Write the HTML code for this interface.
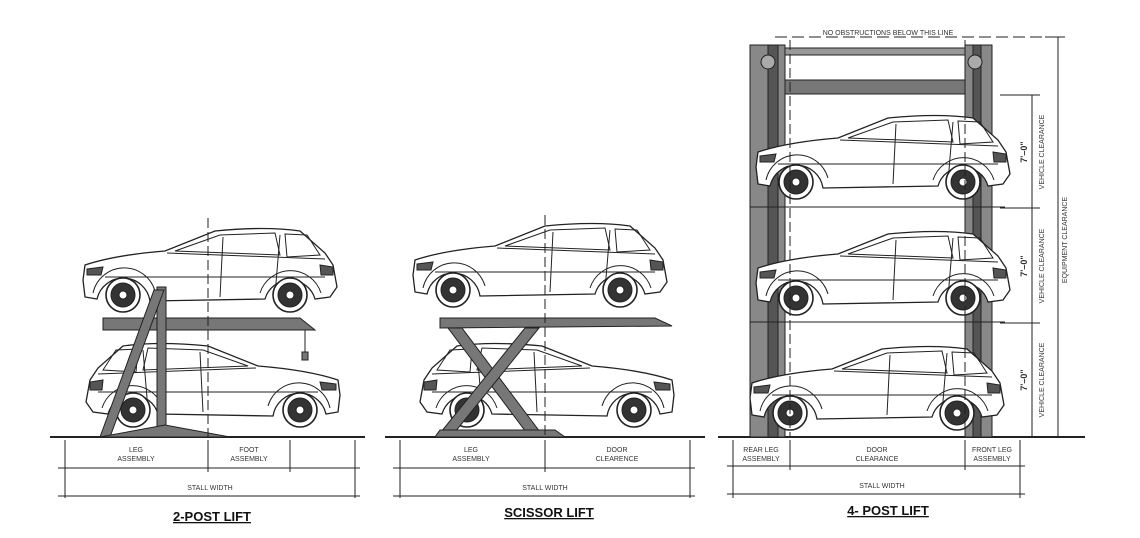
<!DOCTYPE html>
<html><head><meta charset="utf-8"><style>
html,body{margin:0;padding:0;background:#fff;}
svg{display:block;}
text{font-family:"Liberation Sans",sans-serif;fill:#333;}
.s{font-size:7px;}
.t{font-size:13px;font-weight:bold;fill:#111;text-decoration:underline;}
</style></head><body>
<svg width="1140" height="538" viewBox="0 0 1140 538" xmlns="http://www.w3.org/2000/svg">
<defs>
<g id="car" fill="none" stroke="#222" stroke-width="1">
 <path d="M8,55 L10,40 Q40,30 90,26 L140,6 Q190,1 225,6 L250,28 L258,40 L262,62 L255,72 L240,74 A26,26 0 0 0 190,74 L75,76 A27,27 0 0 0 22,74 L10,72 Z" fill="#fff" stroke-width="1.3"/>
 <path d="M100,26 L145,10 L200,8 L205,30 Z M210,9 L232,10 L245,30 L212,32 Z"/>
 <path d="M148,12 L145,72 M205,10 L200,70 M92,28 L250,34 M30,52 L250,52"/>
 <path d="M18,68 A32,32 0 0 1 80,66 M185,68 A32,32 0 0 1 246,68"/>
 <circle cx="48" cy="70" r="17" fill="#fff" stroke-width="1.6"/>
 <circle cx="48" cy="70" r="12" fill="#333"/>
 <circle cx="48" cy="70" r="4" fill="#fff"/>
 <circle cx="215" cy="70" r="17" fill="#fff" stroke-width="1.6"/>
 <circle cx="215" cy="70" r="12" fill="#333"/>
 <circle cx="215" cy="70" r="4" fill="#fff"/>
 <path d="M12,44 L28,42 L26,50 L12,50 Z M245,40 L258,42 L258,50 L246,50 Z" fill="#555"/>
</g>
</defs>
<g stroke="#222" fill="none">
<!-- ground lines -->
<line x1="50" y1="437" x2="365" y2="437" stroke-width="2"/>
<line x1="385" y1="437" x2="705" y2="437" stroke-width="2"/>
<line x1="718" y1="437" x2="1085" y2="437" stroke-width="2"/>
</g>

<!-- 2-post lift -->
<use href="#car" x="75" y="225"/>
<use href="#car" transform="translate(348,340) scale(-1,1)"/>
<g fill="#777" stroke="#222" stroke-width="1">
 <path d="M103,318 L300,318 L315,330 L103,330 Z"/>
 <rect x="157" y="287" width="9" height="150"/>
 <path d="M154,290 L164,290 L110,437 L100,437 Z"/>
 <path d="M100,437 L230,437 L165,425 Z"/>
 <line x1="305" y1="330" x2="305" y2="355" stroke="#222"/>
 <rect x="302" y="352" width="6" height="8"/>
</g>
<line x1="208" y1="218" x2="208" y2="437" stroke="#222" stroke-dasharray="10,4"/>

<!-- scissor lift -->
<use href="#car" x="405" y="220"/>
<use href="#car" transform="translate(682,340) scale(-1,1)"/>
<g fill="#777" stroke="#222" stroke-width="1">
 <path d="M440,318 L655,318 L672,326 L440,328 Z"/>
 <path d="M448,328 L462,328 L540,432 L526,432 Z"/>
 <path d="M525,328 L539,328 L455,432 L441,432 Z"/>
 <path d="M435,437 L565,437 L555,430 L440,430 Z"/>
</g>
<line x1="545" y1="215" x2="545" y2="437" stroke="#222" stroke-dasharray="10,4"/>

<!-- 4-post -->
<g fill="#777" stroke="#222" stroke-width="1">
 <rect x="750" y="45" width="35" height="392" fill="#888"/>
 <rect x="768" y="45" width="10" height="392" fill="#555"/>
 <rect x="965" y="45" width="27" height="392" fill="#888"/>
 <rect x="973" y="45" width="8" height="392" fill="#555"/>
 <rect x="785" y="48" width="180" height="7" fill="#999"/>
 <rect x="785" y="80" width="180" height="14" fill="#777"/>
 <circle cx="768" cy="62" r="7" fill="#aaa"/>
 <circle cx="975" cy="62" r="7" fill="#aaa"/>
</g>
<g stroke="#222" stroke-width="1">
 <line x1="750" y1="207" x2="1005" y2="207"/>
 <line x1="750" y1="322" x2="1005" y2="322"/>
</g>
<use href="#car" x="748" y="112"/>
<use href="#car" x="748" y="228"/>
<use href="#car" x="742" y="343"/>
<g stroke="#222" fill="none" stroke-width="1">
 <line x1="790" y1="40" x2="790" y2="437" stroke-dasharray="10,4"/>
 <line x1="965" y1="40" x2="965" y2="437" stroke-dasharray="10,4"/>
 <line x1="775" y1="37" x2="1045" y2="37" stroke-dasharray="12,5"/>
 <line x1="1058" y1="37" x2="1058" y2="437"/>
 <line x1="1045" y1="37" x2="1065" y2="37"/>
 <line x1="1032" y1="95" x2="1032" y2="437"/>
 <line x1="1000" y1="95" x2="1040" y2="95"/>
 <line x1="1000" y1="208" x2="1040" y2="208"/>
 <line x1="1000" y1="323" x2="1040" y2="323"/>
</g>
<text class="s" x="888" y="35" text-anchor="middle">NO OBSTRUCTIONS BELOW THIS LINE</text>
<g font-size="9" font-weight="bold">
 <text x="0" y="0" transform="translate(1027,152) rotate(-90)" text-anchor="middle" style="font-size:9px;font-weight:bold">7'–0"</text>
 <text x="0" y="0" transform="translate(1027,266) rotate(-90)" text-anchor="middle" style="font-size:9px;font-weight:bold">7'–0"</text>
 <text x="0" y="0" transform="translate(1027,380) rotate(-90)" text-anchor="middle" style="font-size:9px;font-weight:bold">7'–0"</text>
</g>
<text class="s" transform="translate(1044,152) rotate(-90)" text-anchor="middle">VEHICLE CLEARANCE</text>
<text class="s" transform="translate(1044,266) rotate(-90)" text-anchor="middle">VEHICLE CLEARANCE</text>
<text class="s" transform="translate(1044,380) rotate(-90)" text-anchor="middle">VEHICLE CLEARANCE</text>
<text class="s" transform="translate(1067,240) rotate(-90)" text-anchor="middle">EQUIPMENT CLEARANCE</text>

<!-- dimension lines -->
<g stroke="#222" stroke-width="1">
 <line x1="65" y1="440" x2="65" y2="498"/><line x1="208" y1="440" x2="208" y2="472"/>
 <line x1="290" y1="440" x2="290" y2="472"/><line x1="355" y1="440" x2="355" y2="498"/>
 <line x1="58" y1="468" x2="360" y2="468"/><line x1="58" y1="496" x2="360" y2="496"/>
 <line x1="400" y1="440" x2="400" y2="498"/><line x1="545" y1="440" x2="545" y2="472"/>
 <line x1="690" y1="440" x2="690" y2="498"/>
 <line x1="393" y1="468" x2="695" y2="468"/><line x1="393" y1="496" x2="695" y2="496"/>
 <line x1="733" y1="440" x2="733" y2="498"/><line x1="790" y1="440" x2="790" y2="470"/>
 <line x1="965" y1="440" x2="965" y2="470"/><line x1="1020" y1="440" x2="1020" y2="498"/>
 <line x1="727" y1="466" x2="1025" y2="466"/><line x1="727" y1="494" x2="1025" y2="494"/>
</g>
<text class="s" x="136" y="452" text-anchor="middle">LEG</text>
<text class="s" x="136" y="461" text-anchor="middle">ASSEMBLY</text>
<text class="s" x="249" y="452" text-anchor="middle">FOOT</text>
<text class="s" x="249" y="461" text-anchor="middle">ASSEMBLY</text>
<text class="s" x="210" y="490" text-anchor="middle">STALL WIDTH</text>
<text class="s" x="471" y="452" text-anchor="middle">LEG</text>
<text class="s" x="471" y="461" text-anchor="middle">ASSEMBLY</text>
<text class="s" x="617" y="452" text-anchor="middle">DOOR</text>
<text class="s" x="617" y="461" text-anchor="middle">CLEARENCE</text>
<text class="s" x="545" y="490" text-anchor="middle">STALL WIDTH</text>
<text class="s" x="761" y="452" text-anchor="middle">REAR LEG</text>
<text class="s" x="761" y="461" text-anchor="middle">ASSEMBLY</text>
<text class="s" x="877" y="452" text-anchor="middle">DOOR</text>
<text class="s" x="877" y="461" text-anchor="middle">CLEARANCE</text>
<text class="s" x="992" y="452" text-anchor="middle">FRONT LEG</text>
<text class="s" x="992" y="461" text-anchor="middle">ASSEMBLY</text>
<text class="s" x="882" y="488" text-anchor="middle">STALL WIDTH</text>
<text class="t" x="212" y="521" text-anchor="middle">2-POST LIFT</text>
<text class="t" x="549" y="517" text-anchor="middle">SCISSOR LIFT</text>
<text class="t" x="888" y="515" text-anchor="middle">4- POST LIFT</text>
</svg>
</body></html>
